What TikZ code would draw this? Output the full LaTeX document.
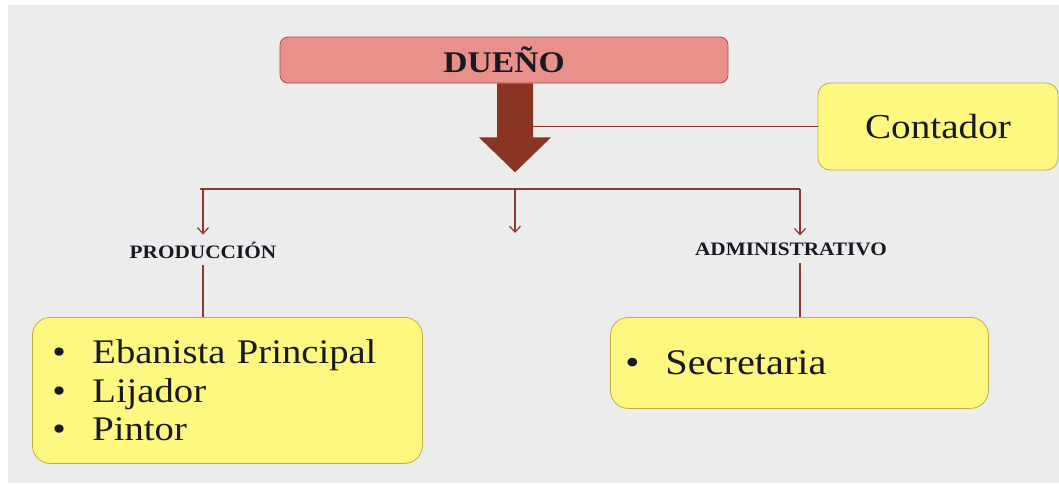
\documentclass[tikz,border=0pt]{standalone}
\usepackage{fontspec}
\setmainfont{Liberation Serif}[FakeStretch=1.12]
\usetikzlibrary{arrows.meta,positioning}

\definecolor{bggray}{RGB}{236,236,236}
\definecolor{ownerfill}{RGB}{232,145,138}
\definecolor{ownerdraw}{RGB}{176,74,64}
\definecolor{brownred}{RGB}{138,52,36}
\definecolor{linered}{RGB}{140,58,48}
\definecolor{notefill}{RGB}{255,248,128}
\definecolor{notedraw}{RGB}{196,172,64}
\definecolor{inktext}{RGB}{25,25,35}

% bullet for the staff lists
\newcommand{\staffitem}{\makebox[37pt][l]{\hspace{-3pt}•}}

\begin{document}
\begin{tikzpicture}[
    x=1pt, y=-1pt,
    owner/.style={draw=ownerdraw, fill=ownerfill, line width=0.8pt, rounded corners=8pt, minimum width=448pt, minimum height=46pt, font=\fontsize{30}{32}\selectfont\bfseries, text=inktext},
    note/.style={draw=notedraw, fill=notefill, line width=0.8pt, rounded corners=18pt, text=inktext, align=left},
    area/.style={font=\fontsize{19}{20}\selectfont\bfseries, text=inktext, inner xsep=0pt, inner ysep=7pt},
    link/.style={draw=linered, line width=1.2pt},
    >={Straight Barb[length=6pt,width=11pt]}
]
    % page and background
    \useasboundingbox (0,0) rectangle (1059,483);
    \fill[bggray] (8,5) rectangle (1059,483);

    % top of the chart
    \node[owner] (owner) at (504,60) {DUEÑO};
    \node[note, rounded corners=12pt, minimum width=240pt, minimum height=87pt, font=\fontsize{35}{40}\selectfont] (acct) at (938,126.5) {Contador};

    % thick arrow under the owner
    \fill[brownred] ([xshift=-7pt]owner.south) -- ++(36,0) -- ++(0,54) -- ++(18,0) -- ++(-36,35) -- ++(-36,-35) -- ++(18,0) -- cycle;
    \coordinate (stem) at (518,126.5);
    \draw[link] (stem) -- (acct.west);

    % branch line
    \coordinate (bl) at (203,189);
    \coordinate (bm) at (515,189);
    \coordinate (br) at (800,189);
    \coordinate (bmtip) at (515,233);
    \draw[link] ([xshift=-3pt]bl) -- (br);

    \node[area] (prod) at (203,250) {PRODUCCIÓN};
    \node[area] (admin) at (791,249) {ADMINISTRATIVO};

    \draw[link,->] (bl) -- (bl |- prod.north);
    \draw[link,->] (bm) -- (bmtip);
    \draw[link,->] (br) -- (br |- admin.north);

    % staff boxes
    \node[note, anchor=north west, minimum height=146pt, inner xsep=23pt, text width=344pt, font=\fontsize{34.5}{38.5}\selectfont] (prodbox) at (32,317)
        {\staffitem Ebanista Principal\\ \staffitem Lijador\\ \staffitem Pintor};
    \node[note, anchor=north west, minimum height=91pt, inner xsep=18pt, text width=342pt, font=\fontsize{36}{40}\selectfont] (adminbox) at (610,317)
        {\staffitem Secretaria};

    \draw[link] (prod.south) -- (prod.south |- prodbox.north);
    \draw[link] (br |- admin.south) -- (br |- adminbox.north);
\end{tikzpicture}
\end{document}
